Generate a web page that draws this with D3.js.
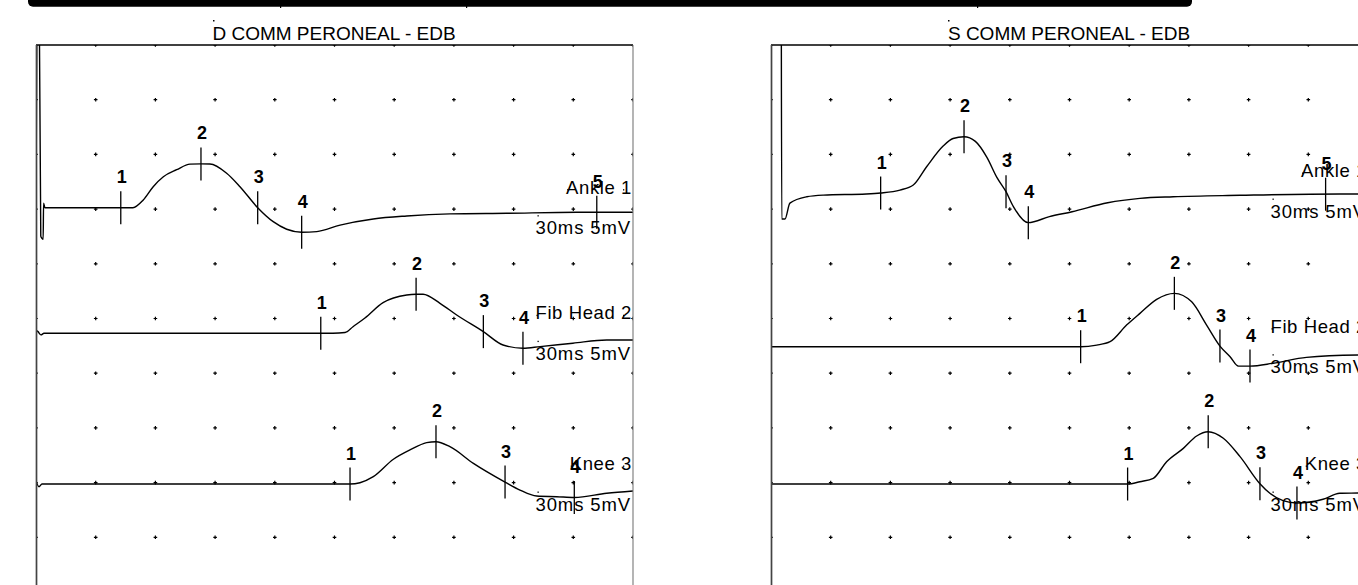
<!DOCTYPE html>
<html><head><meta charset="utf-8">
<script src="https://cdn.jsdelivr.net/npm/d3@7"></script>
<style>
html,body{margin:0;padding:0;background:#fff;}
svg{display:block;}
text{font-family:"Liberation Sans",Arial,sans-serif;}
</style></head>
<body>
<svg id="c" width="1358" height="585"></svg>
<script>
// ---- data (time in ms, amplitude in mV relative to each trace's baseline) ----
const panelTitles = ["D COMM PERONEAL - EDB", "S COMM PERONEAL - EDB"];
const traceNames = ["Ankle 1", "Fib Head 2", "Knee 3"];
const scaleLabel = "30ms 5mV";
const sweepMs = 30;          // 10 divisions x 3 ms
const sensMv = 5;            // mV per division
const gridCols = 10, gridRows = 10;

// baselines, in mV measured down from the top of the panel
const leftBaselines  = [14.87, 26.35, 40.13];
const rightBaselines = [13.35, 27.58, 40.13];

const leftAnkle = [[0,0],[0.12,30],[0.24,-2.6],[0.3,-2.8],[0.36,-2.9],[0.38,0.4],[0.45,0],[4.26,0],[4.87,0],[5.39,0.7],[5.89,1.92],[6.4,2.83],[7.07,3.47],[7.74,3.98],[8.29,4.0],[8.74,3.99],[9.58,3.15],[10.25,1.92],[11.14,0],[11.92,-1.28],[12.6,-1.97],[13.35,-2.25],[14.11,-2.19],[15.28,-1.59],[16.95,-1.03],[18.63,-0.76],[20.8,-0.57],[23.65,-0.51],[27.17,-0.42],[30,-0.42]];
const leftFib = [[0,0.3],[0.1,0.15],[0.25,-0.15],[0.4,0],[14.31,0],[14.92,0],[15.53,0.07],[15.93,0.6],[16.53,1.4],[17.44,2.8],[18.63,3.5],[19.1,3.56],[19.45,3.56],[20.3,2.74],[21.14,1.67],[22.48,0.15],[23.47,-1.07],[24.47,-1.37],[25.33,-1.22],[26.98,-0.91],[28.68,-0.61],[30,-0.61]];
const leftKnee = [[0,0.3],[0.15,-0.25],[0.3,0],[15.78,0],[16.28,0.12],[16.95,0.67],[17.96,2.26],[18.79,3.11],[19.63,3.78],[20.1,3.87],[20.8,3.41],[21.98,1.89],[23.57,0.18],[24.32,-0.55],[25.16,-1.1],[26.17,-1.16],[27.05,-1.23],[28.68,-0.85],[30,-0.64]];
const rightAnkle = [[0,30],[0.5,30],[0.54,-2.56],[0.7,-2.56],[0.95,-1.1],[1.8,-0.52],[2.63,-0.37],[4.79,-0.27],[5.51,-0.18],[6.48,0.09],[7.15,0.55],[7.82,2.22],[8.65,4.11],[9.15,4.8],[9.7,4.96],[10.27,4.54],[10.85,3.08],[11.35,1.25],[11.81,-0.06],[12.18,-1.42],[12.93,-2.89],[13.99,-2.34],[15.13,-1.89],[16.92,-1.07],[18.54,-0.67],[20.21,-0.52],[23.57,-0.39],[28.58,-0.27],[30,-0.27]];
const rightFib = [[0,0],[15.56,0],[16.37,0.15],[17.04,0.46],[17.88,2.0],[18.54,3.05],[19.38,4.33],[20.27,4.88],[21.14,4.1],[21.89,1.98],[22.56,0.06],[23.07,-0.91],[23.49,-1.77],[24.07,-1.77],[25.23,-1.51],[26.91,-0.97],[29.5,-0.76],[30,-0.75]];
const rightKnee = [[0,0],[17.92,0],[18.54,0.21],[19.21,0.52],[19.88,2.04],[20.72,3.26],[21.39,4.39],[21.97,4.78],[22.73,4.18],[23.57,2.5],[24.57,0.03],[25.07,-0.85],[25.73,-1.52],[26.43,-1.74],[27.74,-1.39],[28.58,-0.85],[29.5,-0.82],[30,-0.8]];

const leftAnkleMarks  = [4.26, 8.29, 11.14, 13.35, 28.18];
const leftFibMarks    = [14.31, 19.1, 22.48, 24.47];
const leftKneeMarks   = [15.78, 20.1, 23.57, 27.05];
const rightAnkleMarks = [5.51, 9.7, 11.81, 12.93, 27.87];
const rightFibMarks   = [15.56, 20.27, 22.56, 24.07];
const rightKneeMarks  = [17.92, 21.97, 24.57, 26.43];

// ---- layout ----
const panels = [
  {title: panelTitles[0], x0: 36,  baselines: leftBaselines,  traces: [leftAnkle, leftFib, leftKnee],   marks: [leftAnkleMarks, leftFibMarks, leftKneeMarks]},
  {title: panelTitles[1], x0: 771, baselines: rightBaselines, traces: [rightAnkle, rightFib, rightKnee], marks: [rightAnkleMarks, rightFibMarks, rightKneeMarks]}
];
const panelW = 597, topY = 45, divH = 54.7;

const svg = d3.select("#c");

// top black bar
svg.append("rect").attr("x", 28).attr("y", -10).attr("width", 1164).attr("height", 16.8).attr("rx", 5).attr("fill", "#000");
[280, 466, 977].forEach(x => svg.append("rect").attr("x", x).attr("y", 5).attr("width", 1.2).attr("height", 3).attr("fill", "#000"));

function interp(data, t) {
  for (let i = 1; i < data.length; i++) {
    if (data[i][0] >= t) {
      const a = data[i-1], b = data[i];
      const f = (t - a[0]) / (b[0] - a[0] || 1);
      return a[1] + f * (b[1] - a[1]);
    }
  }
  return data[data.length-1][1];
}

panels.forEach((p, pi) => {
  const x = d3.scaleLinear().domain([0, sweepMs]).range([p.x0, p.x0 + panelW]);
  const y = d3.scaleLinear().domain([0, gridRows * sensMv]).range([topY, topY + gridRows * divH]);
  const g = svg.append("g");

  // title
  const cx = p.x0 + panelW / 2 + 0.5;
  g.append("text").attr("x", cx - 1).attr("y", 40).attr("text-anchor", "middle")
    .attr("font-size", 19).attr("fill", "#000").text(p.title);
  g.append("rect").attr("x", cx - 122).attr("y", 20).attr("width", 1.5).attr("height", 1.5).attr("fill", "#000");

  const clipId = "clip" + pi;
  svg.append("clipPath").attr("id", clipId).append("rect")
    .attr("x", p.x0).attr("y", topY).attr("width", panelW).attr("height", 600);
  const inner = g.append("g").attr("clip-path", `url(#${clipId})`);

  // grid crosses
  const cols = d3.range(0, gridCols + 1).map(i => i * sweepMs / gridCols);
  const rows = d3.range(0, gridRows + 1).map(i => i * sensMv);
  cols.forEach(c => rows.forEach(r => {
    const px = x(c), py = y(r);
    inner.append("path").attr("d", `M${px-1.8},${py}H${px+1.8}M${px},${py-1.8}V${py+1.8}`)
      .attr("stroke", "#000").attr("stroke-width", 1.2);
  }));

  // frame
  g.append("line").attr("x1", p.x0).attr("x2", p.x0 + panelW).attr("y1", topY).attr("y2", topY).attr("stroke", "#000").attr("stroke-width", 1.4);
  g.append("line").attr("x1", p.x0 + 0.5).attr("x2", p.x0 + 0.5).attr("y1", topY).attr("y2", 600).attr("stroke", "#444").attr("stroke-width", 1.7);
  g.append("line").attr("x1", p.x0 + panelW).attr("x2", p.x0 + panelW).attr("y1", topY).attr("y2", 600).attr("stroke", "#777").attr("stroke-width", 1.1);

  const line = d3.line().curve(d3.curveMonotoneX);

  p.traces.forEach((tr, ti) => {
    const base = p.baselines[ti];
    const Y = v => y(base - v);
    inner.append("path")
      .attr("d", line(tr.map(d => [x(d[0]), Y(d[1])])))
      .attr("fill", "none").attr("stroke", "#000").attr("stroke-width", 1.4);

    // markers
    p.marks[ti].forEach((t, mi) => {
      const mx = x(t), my = Y(interp(tr, t));
      inner.append("line").attr("x1", mx).attr("x2", mx).attr("y1", my - 16.5).attr("y2", my + 16.5)
        .attr("stroke", "#000").attr("stroke-width", 1.3);
      inner.append("text").attr("x", mx + 1).attr("y", my - 24.5).attr("text-anchor", "middle")
        .attr("font-size", 18).attr("font-weight", "bold").attr("fill", "#000").text(mi + 1);
    });

    // name and scale labels
    const by = y(base);
    const nameT = inner.append("text").attr("x", x(sweepMs) - 1).attr("y", by - 14).attr("text-anchor", "end")
      .attr("font-size", 18.5).attr("letter-spacing", 0.6).attr("fill", "#000").text(traceNames[ti]);
    const sx = x(25.1);
    inner.append("text").attr("x", sx).attr("y", by + 26.5)
      .attr("font-size", 18.5).attr("letter-spacing", 0.9).attr("fill", "#000").text(scaleLabel);
    // tiny corner dots of the label boxes
    const nb = nameT.node().getBBox();
    [[nb.x + 1, by - 18.5], [x(sweepMs) - 10, by - 18.5], [sx + 2, by + 7.5]].forEach(d =>
      inner.append("rect").attr("x", d[0]).attr("y", d[1]).attr("width", 1.3).attr("height", 1.3).attr("fill", "#000"));
  });
});
</script>
</body></html>
